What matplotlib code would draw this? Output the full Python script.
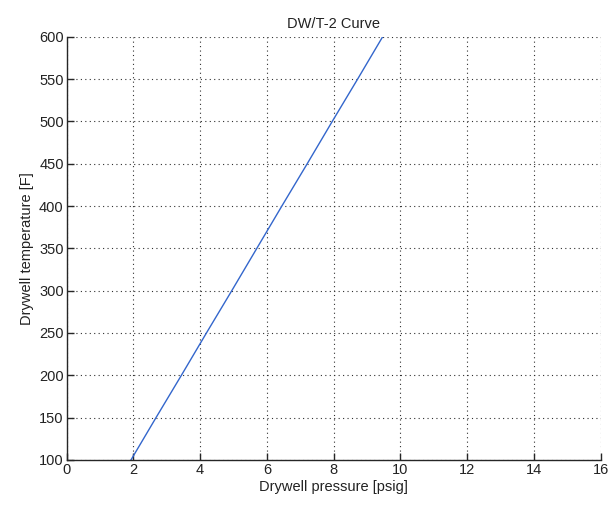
import matplotlib
matplotlib.use("Agg")
from matplotlib import pyplot as plt

# values (it is a straight line)
temperature = [100, 150, 200, 250, 300, 350, 400, 450, 500, 550, 600]
pressure = [1.93, 2.68, 3.44, 4.19, 4.95, 5.70, 6.45, 7.21, 7.96, 8.72, 9.47]

x_ticks = [0, 2, 4, 6, 8, 10, 12, 14, 16]
y_ticks = [100, 150, 200, 250, 300, 350, 400, 450, 500, 550, 600]

plt.rcParams['font.family'] = ['Liberation Sans', 'DejaVu Sans']
plt.rcParams['font.size'] = 10.5

fig = plt.figure(figsize=(6.13, 5.08), dpi=100)
ax = fig.add_axes([0.1085, 0.0945, 0.8715, 0.8333])

ax.plot(pressure, temperature, color='#3366cc', lw=1.0)

ax.set_xlim(0, 16)
ax.set_ylim(100, 600)
ax.set_xticks(x_ticks)
ax.set_yticks(y_ticks)

ax.grid(True, color='#303030', linestyle=(0, (1, 3)), lw=0.8)
for s in ['top', 'right']:
    ax.spines[s].set_visible(False)
for s in ['left', 'bottom']:
    ax.spines[s].set_color('#262626')
    ax.spines[s].set_linewidth(1.0)
ax.tick_params(direction='in', length=5, width=1.0, colors='#262626',
               labelcolor='#222222', labelsize=10.5, pad=2)

ax.set_title("DW/T-2 Curve", fontsize=10.5, color='#222222', pad=6)
ax.set_xlabel("Drywell pressure [psig]", fontsize=10.5, color='#222222', labelpad=2)
ax.set_ylabel("Drywell temperature [F]", fontsize=10.5, color='#222222', labelpad=4)

fig.savefig("out.png", dpi=100)
